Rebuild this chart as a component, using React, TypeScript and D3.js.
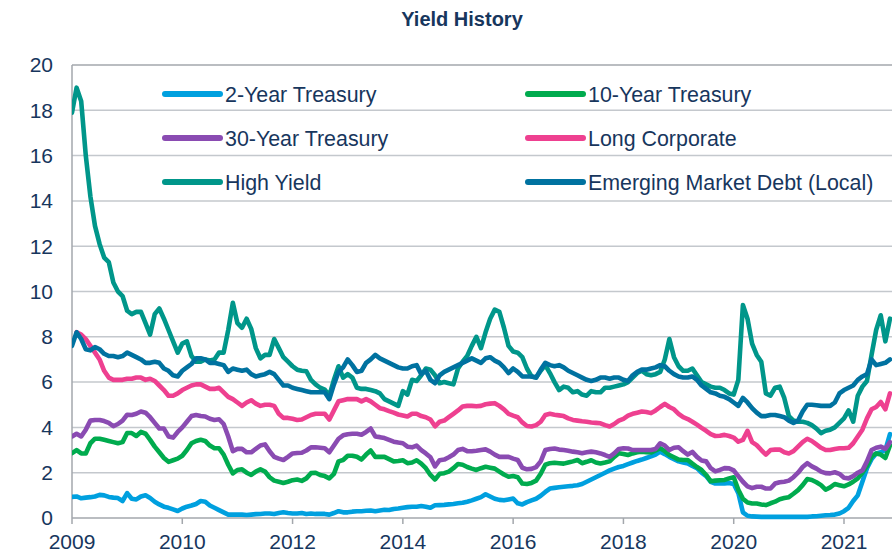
import React from 'react';
import * as d3 from 'd3';

// monthly observations, index 0 = first month shown
const tickMonths = [0, 24, 48, 72, 96, 120, 144, 168];
const tickLabels = ['2009', '2010', '2012', '2014', '2016', '2018', '2020', '2021'];
const yTicks = [0, 2, 4, 6, 8, 10, 12, 14, 16, 18, 20];

const twoYear = [
  0.93, 0.95, 0.87, 0.9, 0.92, 0.95, 1.02, 1.0, 0.93, 0.9,
  0.88, 0.75, 1.1, 0.85, 0.82, 0.95, 1.0, 0.88, 0.72, 0.6,
  0.5, 0.45, 0.38, 0.31, 0.42, 0.5, 0.55, 0.62, 0.75, 0.72,
  0.55, 0.45, 0.35, 0.25, 0.15, 0.15, 0.15, 0.15, 0.13, 0.15,
  0.17, 0.18, 0.2, 0.2, 0.18, 0.22, 0.25, 0.22, 0.2, 0.2,
  0.22, 0.18, 0.2, 0.18, 0.18, 0.18, 0.15, 0.22, 0.3, 0.25,
  0.25, 0.28, 0.3, 0.3, 0.32, 0.33, 0.3, 0.33, 0.36, 0.35,
  0.4, 0.42, 0.45, 0.48, 0.5, 0.5, 0.53, 0.5, 0.45, 0.56,
  0.57, 0.58, 0.6, 0.62, 0.65, 0.67, 0.72, 0.78, 0.85, 0.92,
  1.05, 0.95, 0.85, 0.8, 0.78, 0.82, 0.86, 0.65, 0.6, 0.7,
  0.78, 0.85, 0.98, 1.15, 1.3, 1.33, 1.36, 1.38, 1.4, 1.42,
  1.45, 1.5, 1.6, 1.7, 1.8, 1.9, 2.0, 2.1, 2.18, 2.25,
  2.3, 2.38, 2.45, 2.52, 2.58, 2.65, 2.72, 2.8, 2.93, 2.82,
  2.7, 2.6, 2.5, 2.45, 2.41, 2.3, 2.2, 2.0, 1.85, 1.6,
  1.52, 1.52, 1.52, 1.55, 1.5, 1.1, 0.25, 0.1, 0.07, 0.06,
  0.05, 0.05, 0.05, 0.05, 0.05, 0.05, 0.05, 0.05, 0.05, 0.05,
  0.05, 0.07, 0.08, 0.1, 0.12, 0.13, 0.15, 0.2, 0.3, 0.45,
  0.75, 1.0, 1.6, 2.2, 2.6, 2.85, 2.9, 3.0, 3.7,
];

const tenYear = [
  2.86, 3.0, 2.85, 2.85, 3.3, 3.5, 3.5, 3.45, 3.4, 3.35,
  3.3, 3.35, 3.75, 3.75, 3.62, 3.8, 3.72, 3.45, 3.15, 2.9,
  2.65, 2.48, 2.55, 2.62, 2.75, 3.0, 3.3, 3.4, 3.45, 3.4,
  3.2, 3.08, 3.08, 2.8, 2.35, 1.97, 2.12, 2.15, 2.0, 1.9,
  2.05, 2.15, 2.05, 1.8, 1.65, 1.6, 1.55, 1.6, 1.67, 1.7,
  1.64, 1.75, 1.98, 2.0, 1.9, 1.85, 1.75, 1.95, 2.5, 2.56,
  2.75, 2.75, 2.7, 2.58, 2.8, 2.98, 2.7, 2.7, 2.7, 2.6,
  2.5, 2.52, 2.55, 2.42, 2.45, 2.55, 2.4, 2.2, 1.9, 1.7,
  1.95, 1.98, 2.05, 2.2, 2.38, 2.35, 2.25, 2.18, 2.12, 2.2,
  2.26, 2.22, 2.18, 2.05, 1.92, 1.82, 1.85, 1.8, 1.52, 1.5,
  1.55, 1.65, 1.95, 2.35, 2.42, 2.44, 2.42, 2.4, 2.45, 2.5,
  2.56, 2.42, 2.48, 2.55, 2.45, 2.41, 2.45, 2.5, 2.7, 2.86,
  2.83, 2.78, 2.85, 2.9, 2.93, 2.9, 2.89, 2.98, 3.08, 2.95,
  2.78, 2.68, 2.58, 2.56, 2.56, 2.4, 2.25, 2.12, 1.9, 1.62,
  1.65, 1.67, 1.68, 1.75, 1.8, 1.25, 0.85, 0.68, 0.64, 0.64,
  0.6, 0.57, 0.65, 0.72, 0.83, 0.88, 0.92, 1.07, 1.23, 1.45,
  1.72, 1.68, 1.58, 1.45, 1.25, 1.35, 1.5, 1.45, 1.4, 1.48,
  1.6, 1.75, 2.0, 2.3, 2.72, 2.85, 2.8, 2.65, 3.2,
];

const thirtyYear = [
  3.6, 3.72, 3.6, 3.9, 4.3, 4.33, 4.33, 4.28, 4.2, 4.05,
  4.15, 4.3, 4.56, 4.55, 4.6, 4.7, 4.65, 4.45, 4.2, 3.95,
  3.95, 3.6, 3.55, 3.8, 4.0, 4.25, 4.5, 4.55, 4.5, 4.48,
  4.38, 4.33, 4.36, 4.15, 3.6, 2.95, 3.05, 3.05, 2.9, 2.9,
  3.05, 3.2, 3.25, 2.95, 2.7, 2.62, 2.56, 2.7, 2.85, 2.87,
  2.88, 2.98, 3.12, 3.12, 3.1, 3.08, 2.9, 3.2, 3.5, 3.65,
  3.7, 3.72, 3.72, 3.68, 3.8, 3.95, 3.6, 3.57, 3.53, 3.45,
  3.37, 3.33, 3.3, 3.15, 3.12, 3.2, 3.0, 2.85, 2.68, 2.28,
  2.55, 2.58, 2.68, 2.8, 3.0, 3.05, 2.95, 2.95, 2.97, 3.0,
  3.03, 2.93, 2.8, 2.7, 2.7, 2.7, 2.62, 2.56, 2.22, 2.15,
  2.17, 2.25, 2.5, 3.0, 3.05, 3.07, 3.02, 3.0, 2.97, 2.93,
  2.9, 2.86, 2.9, 2.93, 2.9, 2.85, 2.78, 2.7, 2.85, 3.05,
  3.08, 3.07, 3.0, 3.0, 3.0, 3.0, 3.0, 3.05, 3.3, 3.2,
  3.0, 3.1, 3.12, 2.95, 2.8, 2.92, 2.7, 2.54, 2.5, 2.2,
  2.06, 2.12, 2.2, 2.19, 2.1, 1.85, 1.6, 1.4, 1.32, 1.38,
  1.38, 1.3, 1.3, 1.52, 1.58, 1.6, 1.65, 1.8, 2.0, 2.25,
  2.42, 2.28, 2.18, 2.05, 1.98, 1.97, 2.02, 1.95, 1.78, 1.75,
  1.85, 2.0, 2.1, 2.5, 3.0, 3.1, 3.15, 3.05, 3.35,
];

// starts one month after the others
const longCorporate = [
  null, 8.2, 8.1, 7.9, 7.6, 7.3, 7.0, 6.5, 6.2, 6.1,
  6.1, 6.1, 6.15, 6.15, 6.2, 6.2, 6.1, 6.15, 6.05, 5.85,
  5.65, 5.4, 5.4, 5.5, 5.65, 5.75, 5.85, 5.9, 5.9, 5.8,
  5.7, 5.7, 5.75, 5.55, 5.35, 5.25, 5.1, 4.95, 5.1, 5.2,
  5.05, 4.95, 5.0, 5.0, 4.95, 4.6, 4.42, 4.42, 4.38, 4.33,
  4.35, 4.45, 4.55, 4.6, 4.6, 4.6, 4.35, 4.75, 5.15, 5.2,
  5.25, 5.25, 5.25, 5.15, 5.25, 5.15, 5.0, 4.85, 4.8, 4.72,
  4.65, 4.57, 4.53, 4.48, 4.6, 4.6, 4.5, 4.45, 4.35, 4.05,
  4.25, 4.3, 4.45, 4.6, 4.75, 4.92, 4.95, 4.95, 4.93, 4.95,
  5.02, 5.05, 5.07, 4.95, 4.8, 4.6, 4.52, 4.45, 4.22, 4.06,
  4.04, 4.1, 4.25, 4.55, 4.6, 4.56, 4.53, 4.5, 4.4, 4.33,
  4.3, 4.27, 4.25, 4.22, 4.2, 4.18, 4.1, 4.04, 4.15, 4.3,
  4.38, 4.52, 4.6, 4.65, 4.7, 4.68, 4.63, 4.75, 4.9, 5.04,
  4.9, 4.8, 4.6, 4.45, 4.37, 4.25, 4.12, 3.98, 3.85, 3.7,
  3.62, 3.63, 3.67, 3.62, 3.55, 3.37, 3.45, 3.85, 3.35, 3.22,
  3.0, 2.8, 3.0, 3.02, 3.02, 2.9, 2.85, 2.95, 3.15, 3.35,
  3.5, 3.4, 3.25, 3.1, 3.0, 3.0, 3.05, 3.08, 3.08, 3.1,
  3.3, 3.6, 3.9, 4.4, 4.8, 4.9, 5.12, 4.8, 5.5,
];

const highYield = [
  17.9, 19.0, 18.4, 16.0, 14.2, 12.9, 12.1, 11.5, 11.3, 10.4,
  10.0, 9.8, 9.15, 9.0, 9.1, 9.1, 8.6, 8.1, 9.0, 9.25,
  8.8, 8.3, 7.8, 7.3, 7.7, 7.8, 7.15, 6.9, 6.9, 7.0,
  6.95, 7.0, 7.3, 7.3, 8.3, 9.5, 8.6, 8.4, 8.8, 8.35,
  7.5, 7.05, 7.2, 7.2, 7.9, 7.5, 7.1, 6.9, 6.7, 6.55,
  6.5, 6.48, 6.1, 5.9, 5.75, 5.67, 5.4, 6.1, 6.7, 6.2,
  6.35, 6.2, 5.75, 5.7, 5.7, 5.65, 5.6, 5.5, 5.25, 5.15,
  5.05, 4.95, 5.6, 5.45, 6.1, 6.05, 6.3, 6.6, 6.55, 6.3,
  5.95, 6.0, 5.95, 5.9, 6.6, 6.9, 7.15, 7.6, 8.0, 7.5,
  8.2, 8.8, 9.2, 9.1, 8.4, 7.6, 7.35, 7.3, 7.1, 6.6,
  6.25, 6.2, 6.5, 6.75, 6.4, 6.0, 5.65, 5.8, 5.75, 5.55,
  5.6, 5.45, 5.4, 5.6, 5.55, 5.55, 5.75, 5.75, 5.8, 5.85,
  5.9, 6.0, 6.2, 6.4, 6.5, 6.35, 6.3, 6.35, 6.45, 7.0,
  7.9, 7.1, 6.7, 6.5, 6.5, 6.6, 6.3, 6.0, 5.9, 5.8,
  5.75, 5.75, 5.65, 5.5, 5.45, 6.1, 9.4, 8.8, 7.7, 7.2,
  6.9, 5.5, 5.4, 5.75, 5.8, 5.3, 4.5, 4.3, 4.25, 4.25,
  4.2, 4.1, 3.95, 3.75, 3.85, 3.9, 4.0, 4.2, 4.4, 4.75,
  4.25, 5.4, 5.8, 6.05, 7.2, 8.3, 8.95, 7.8, 8.8,
];

const emergingDebt = [
  7.6, 8.2, 7.9, 7.45, 7.4, 7.55, 7.45, 7.25, 7.15, 7.15,
  7.1, 7.15, 7.3, 7.2, 7.1, 7.0, 6.85, 6.85, 6.9, 6.85,
  6.6, 6.5, 6.3, 6.25, 6.5, 6.65, 6.8, 7.05, 7.05, 7.0,
  6.85, 6.85, 6.8, 6.75, 6.45, 6.6, 6.55, 6.5, 6.55, 6.35,
  6.25, 6.3, 6.35, 6.45, 6.35, 6.1, 5.85, 5.85, 5.75, 5.7,
  5.65, 5.6, 5.55, 5.55, 5.55, 5.55, 5.25, 5.9, 6.45, 6.65,
  7.0, 6.75, 6.45, 6.5, 6.85, 7.0, 7.2, 7.05, 6.95, 6.85,
  6.75, 6.65, 6.6, 6.6, 6.7, 6.75, 6.35, 6.5, 6.1, 5.95,
  6.3, 6.45, 6.55, 6.65, 6.75, 6.85, 6.95, 7.05, 6.95, 6.85,
  7.05, 7.1, 6.95, 6.85, 6.65, 6.4, 6.6, 6.45, 6.25, 6.25,
  6.25, 6.2, 6.55, 6.85, 6.75, 6.7, 6.75, 6.65, 6.5, 6.4,
  6.3, 6.2, 6.1, 6.05, 6.1, 6.2, 6.2, 6.15, 6.2, 6.2,
  6.1, 6.05, 6.3, 6.45, 6.55, 6.55, 6.6, 6.65, 6.75, 6.7,
  6.5, 6.35, 6.25, 6.2, 6.2, 6.25, 6.1, 5.85, 5.7, 5.55,
  5.5, 5.4, 5.35, 5.25, 5.1, 4.95, 5.3, 5.1, 4.85, 4.65,
  4.5, 4.5, 4.55, 4.55, 4.5, 4.45, 4.3, 4.2, 4.3, 4.7,
  5.0, 5.0, 4.98, 4.95, 4.95, 4.95, 5.1, 5.5, 5.65, 5.75,
  5.85, 6.1, 6.25, 6.35, 7.0, 6.75, 6.8, 6.85, 7.0,
];

const seriesNames = [
  '2-Year Treasury', '10-Year Treasury', '30-Year Treasury',
  'Long Corporate', 'High Yield', 'Emerging Market Debt (Local)',
];
const seriesColors = ['#00A0DF', '#00AB4E', '#8A4BB2', '#EE4090', '#00968A', '#0072A0'];
const seriesValues: (number | null)[][] = [twoYear, tenYear, thirtyYear, longCorporate, highYield, emergingDebt];

const textColor = '#17365D';
const font = '"Liberation Sans", Arial, sans-serif';

export default function App() {
  const width = 892;
  const height = 556;
  const left = 72, right = 892, top = 65, bottom = 518;

  const x = d3.scaleLinear().domain([0, 168]).range([left, 844]);
  const y = d3.scaleLinear().domain([0, 20]).range([bottom, top]);

  const line = d3.line<number | null>()
    .defined(d => d != null)
    .x((_, i) => x(i))
    .y(d => y(d as number));

  return (
    <svg width={width} height={height}
      style={{ position: 'fixed', left: 0, top: 0, background: '#fff' }}
      fontFamily={font}>
      <defs>
        <clipPath id="plot">
          <rect x={left} y={top - 10} width={right - left} height={bottom - top + 12} />
        </clipPath>
      </defs>

      <text x={462} y={26} textAnchor="middle" fontWeight="bold" fontSize={20} fill={textColor}>
        Yield History
      </text>

      {/* grid */}
      {yTicks.filter(t => t > 0 && t < 20).map(t => (
        <line key={t} x1={left} x2={right} y1={y(t)} y2={y(t)} stroke="#C4C8CD" strokeWidth={1.5} />
      ))}
      <line x1={left} x2={right} y1={y(20)} y2={y(20)} stroke="#A3A7AC" strokeWidth={1.5} />
      <line x1={left} x2={left} y1={top} y2={bottom} stroke="#A3A7AC" strokeWidth={1.5} />
      <line x1={left} x2={right} y1={bottom} y2={bottom} stroke="#A3A7AC" strokeWidth={1.5} />
      {tickMonths.map(m => (
        <line key={m} x1={x(m)} x2={x(m)} y1={bottom} y2={bottom + 6} stroke="#A3A7AC" strokeWidth={1.5} />
      ))}

      {/* y labels */}
      {yTicks.map(t => (
        <text key={t} x={53} y={y(t)} dy="0.35em" textAnchor="end" fontSize={21} fill={textColor}>
          {t}
        </text>
      ))}
      {/* x labels */}
      {tickMonths.map((m, i) => (
        <text key={m} x={x(m)} y={549} textAnchor="middle" fontSize={21} fill={textColor}>
          {tickLabels[i]}
        </text>
      ))}

      {/* series */}
      <g clipPath="url(#plot)">
        {seriesValues.map((vals, i) => (
          <path key={seriesNames[i]} d={line(vals) || ''} fill="none" stroke={seriesColors[i]}
            strokeWidth={4.6} strokeLinejoin="round" strokeLinecap="round" />
        ))}
      </g>

      {/* legend */}
      {seriesNames.map((name, i) => {
        const col = i % 2;
        const row = Math.floor(i / 2);
        const lx = col === 0 ? 165 : 528;
        const ly = 94 + row * 44;
        return (
          <g key={name}>
            <line x1={lx} x2={lx + 55} y1={ly} y2={ly} stroke={seriesColors[i]} strokeWidth={6} strokeLinecap="round" />
            <text x={lx + 60} y={ly} dy="0.36em" fontSize={21.4} fill={textColor}>{name}</text>
          </g>
        );
      })}
    </svg>
  );
}
